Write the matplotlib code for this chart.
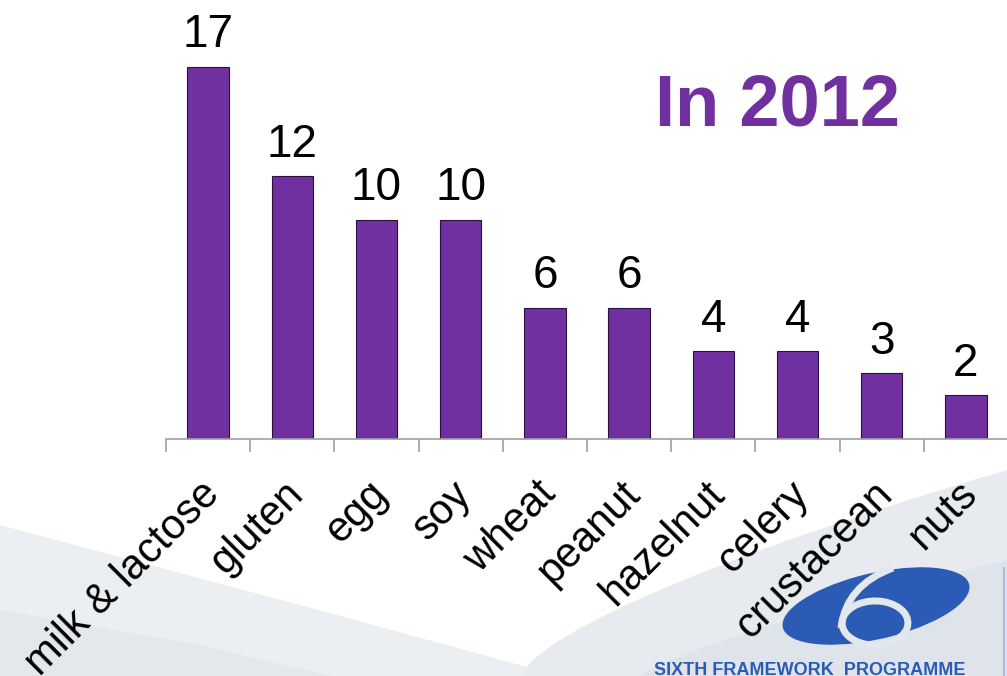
import matplotlib
matplotlib.use("Agg")
import matplotlib.pyplot as plt
import matplotlib.transforms as mtransforms
from matplotlib.patches import Polygon, Ellipse, PathPatch
from matplotlib.path import Path
import numpy as np

categories = ["milk & lactose", "gluten", "egg", "soy", "wheat",
              "peanut", "hazelnut", "celery", "crustacean", "nuts"]
counts = [17, 12, 10, 10, 6, 6, 4, 4, 3, 2]
title_text = "In 2012"

purple = "#7030A0"
W, H = 1007, 676
fig = plt.figure(figsize=(W / 100, H / 100), dpi=100)
fig.patch.set_facecolor("white")


def fx(px):
    return px / W


def fy(py):
    return 1 - py / H


# slide background: soft grey-blue sweeps at the bottom
def fpoly(pts, color, z=0):
    pts = [(fx(x), fy(y)) for x, y in pts]
    fig.patches.append(Polygon(pts, closed=True, transform=fig.transFigure,
                               facecolor=color, edgecolor="none", zorder=z))


fpoly([(0, 525), (300, 605), (560, 676), (0, 676)], "#ECEFF2")
fpoly([(0, 610), (200, 645), (330, 676), (0, 676)], "#E4E8EC")
xs = np.linspace(520, 1007, 40)
ys = 676 - (676 - 470) * ((xs - 520) / 487) ** 0.7
fpoly([(520, 676)] + list(zip(xs, ys)) + [(1007, 676)], "#E7EBEF")
xs2 = np.linspace(640, 1007, 40)
ys2 = 676 - (676 - 560) * ((xs2 - 640) / 367) ** 0.8
fpoly([(640, 676)] + list(zip(xs2, ys2)) + [(1007, 676)], "#DEE4EA")

# programme logo: blue disc with a white "6" cut into it
logo_blue = "#2B5BB5"
gap = "#E3E8EE"
fig.patches.append(Ellipse((fx(876), fy(606)), 198 / W, 64 / H, angle=22,
                           transform=fig.transFigure, facecolor=logo_blue,
                           edgecolor="none", zorder=1))
fig.patches.append(Ellipse((fx(875), fy(623)), 66 / W, 44 / H, angle=30,
                           transform=fig.transFigure, facecolor="none",
                           edgecolor=gap, lw=5, zorder=2))
neck = Path([(fx(841), fy(628)), (fx(846), fy(585)), (fx(893), fy(568))],
            [Path.MOVETO, Path.CURVE3, Path.CURVE3])
fig.patches.append(PathPatch(neck, transform=fig.transFigure, facecolor="none",
                             edgecolor=gap, lw=5, zorder=2))
fig.text(fx(810), fy(675), "SIXTH FRAMEWORK  PROGRAMME", color=logo_blue,
         fontsize=13, fontweight="bold", ha="center", va="baseline",
         family="Liberation Sans", zorder=3)
fig.lines.append(plt.Line2D([fx(1004), fx(1004)], [fy(568), 0],
                            transform=fig.transFigure, color="#A9BCE0", lw=1.5))

# axes geometry in pixels
left, right, base = 166, 1008, 439
ymax = 20.0
ppu = (base - 67) / 17.0
top = base - ymax * ppu
ax = fig.add_axes([fx(left), fy(base), (right - left) / W, (base - top) / H])
ax.set_facecolor("none")
ax.set_zorder(4)

x = np.arange(len(categories))
ax.bar(x, counts, width=0.49, color=purple, edgecolor="#2a1040", linewidth=0.8)
for xi, v in zip(x, counts):
    ax.annotate(str(v), (xi, v), xytext=(0, 7), textcoords="offset points",
                ha="center", va="bottom", fontsize=33, family="Liberation Sans",
                color="black")

ax.set_xlim(-0.5, len(categories) - 0.5)
ax.set_ylim(0, ymax)
for s in ["top", "right", "left"]:
    ax.spines[s].set_visible(False)
ax.spines["bottom"].set_color("#A0A0A0")
ax.spines["bottom"].set_linewidth(1.2)
ax.set_yticks([])
ax.set_xticks(x)
ax.set_xticklabels(categories, rotation=45, ha="right", va="top",
                   rotation_mode="anchor", fontsize=30, family="Liberation Sans")
ax.tick_params(axis="x", which="major", length=0, pad=25)
shift = mtransforms.ScaledTranslation(-9 / 100, 0, fig.dpi_scale_trans)
for lbl in ax.get_xticklabels():
    lbl.set_transform(lbl.get_transform() + shift)
ax.set_xticks(np.arange(-0.5, len(categories), 1.0), minor=True)
ax.tick_params(axis="x", which="minor", length=9.4, width=1.2, color="#A0A0A0",
               direction="out")

fig.text(fx(655), fy(126), title_text, color=purple, fontsize=52,
         fontweight="bold", family="Liberation Sans", ha="left", va="baseline")

fig.savefig("out.png", dpi=100, facecolor=fig.get_facecolor())
